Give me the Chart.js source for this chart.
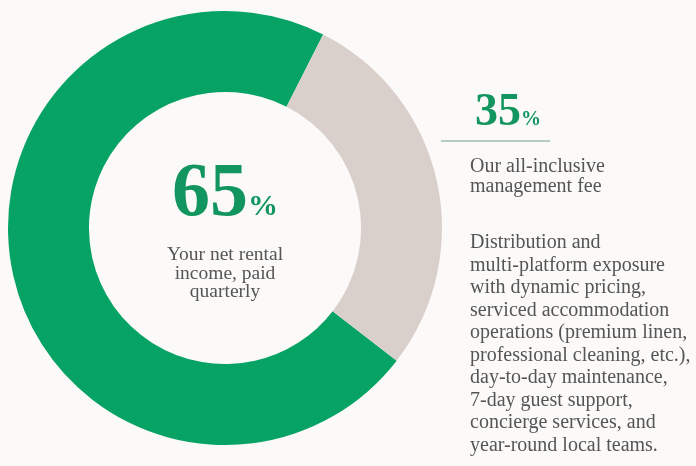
<!DOCTYPE html>
<html>
<head>
<meta charset="utf-8">
<script src="https://cdn.jsdelivr.net/npm/chart.js@4"></script>
<style>
  html, body { margin: 0; padding: 0; background: #FBFAF9; }
  #wrap { width: 696px; height: 466px; position: relative; }
</style>
</head>
<body>
<div id="wrap"><canvas id="chart"></canvas></div>
<script>
// slices as drawn (arc sizes)
const sliceLabels = ['Net rental income', 'Management fee'];
const sliceValues = [72, 28];
const sliceColors = ['#06A364', '#D9D0CC'];

// printed figures and captions
const mainPct = '65';
const feePct = '35';
const mainCaption = ['Your net rental', 'income, paid', 'quarterly'];
const feeCaption = ['Our all-inclusive', 'management fee'];
const feeDetail = [
  'Distribution and',
  'multi-platform exposure',
  'with dynamic pricing,',
  'serviced accommodation',
  'operations (premium linen,',
  'professional cleaning, etc.),',
  'day-to-day maintenance,',
  '7-day guest support,',
  'concierge services, and',
  'year-round local teams.'
];

const GREEN_TXT = '#12955F';
const GREY_TXT = '#555555';
const SERIF = '"Liberation Serif", "DejaVu Serif", serif';

const textPlugin = {
  id: 'texts',
  afterDraw(chart) {
    const ctx = chart.ctx;
    const meta = chart.getDatasetMeta(0).data[0];
    const cx = meta.x, cy = meta.y;
    ctx.save();
    ctx.textBaseline = 'alphabetic';

    // big 65%
    ctx.fillStyle = GREEN_TXT;
    ctx.font = 'bold 76px ' + SERIF;
    const w1 = ctx.measureText(mainPct).width;
    ctx.font = 'bold 30px ' + SERIF;
    const w2 = ctx.measureText('%').width;
    let x0 = cx - (w1 + w2) / 2;
    ctx.textAlign = 'left';
    ctx.font = 'bold 76px ' + SERIF;
    ctx.fillText(mainPct, x0, 215);
    ctx.font = 'bold 30px ' + SERIF;
    ctx.fillText('%', x0 + w1, 215);

    // centre caption
    ctx.fillStyle = GREY_TXT;
    ctx.font = '19.5px ' + SERIF;
    ctx.textAlign = 'center';
    mainCaption.forEach((t, i) => ctx.fillText(t, cx, 260 + i * 18.5));

    // 35%
    ctx.textAlign = 'left';
    ctx.fillStyle = GREEN_TXT;
    ctx.font = 'bold 46px ' + SERIF;
    const w3 = ctx.measureText(feePct).width;
    ctx.fillText(feePct, 475, 125);
    ctx.font = 'bold 20px ' + SERIF;
    ctx.fillText('%', 475 + w3, 125);

    // rule
    ctx.strokeStyle = '#A3BDB0';
    ctx.lineWidth = 1.5;
    ctx.beginPath();
    ctx.moveTo(441, 141);
    ctx.lineTo(550, 141);
    ctx.stroke();

    // right captions
    ctx.fillStyle = GREY_TXT;
    ctx.font = '20px ' + SERIF;
    feeCaption.forEach((t, i) => ctx.fillText(t, 470, 172 + i * 19.5, 226));
    feeDetail.forEach((t, i) => ctx.fillText(t, 470, 248 + i * 22.5, 226));
    ctx.restore();
  }
};

new Chart(document.getElementById('chart'), {
  type: 'doughnut',
  data: {
    labels: sliceLabels,
    datasets: [{
      data: sliceValues,
      backgroundColor: sliceColors,
      borderWidth: 0,
      hoverOffset: 0
    }]
  },
  options: {
    responsive: true,
    maintainAspectRatio: false,
    animation: false,
    rotation: 127.7,
    cutout: '62.7%',
    layout: { padding: { left: 8, top: 11, right: 254, bottom: 21 } },
    plugins: { legend: { display: false }, tooltip: { enabled: false } }
  },
  plugins: [textPlugin]
});
</script>
</body>
</html>
